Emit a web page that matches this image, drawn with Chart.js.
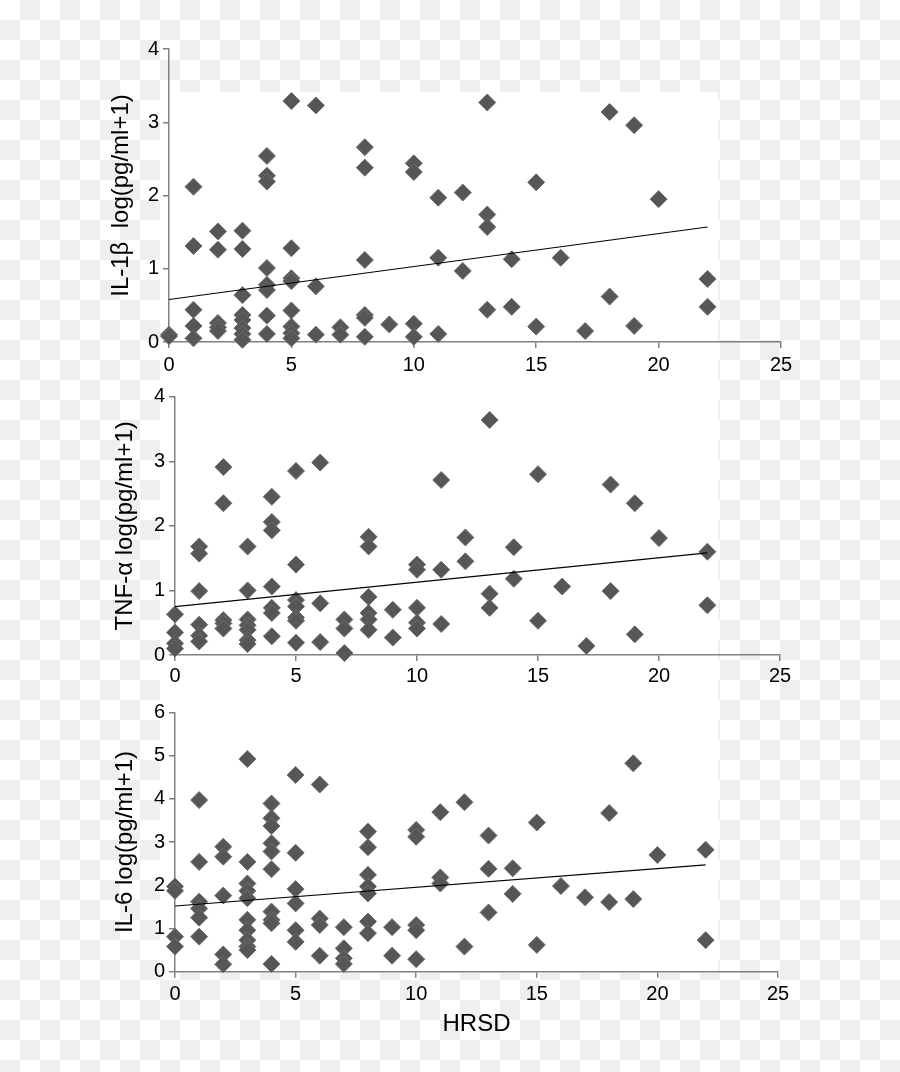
<!DOCTYPE html>
<html><head><meta charset="utf-8">
<script src="https://cdn.jsdelivr.net/npm/chart.js@4"></script>
<style>
html,body{margin:0;padding:0;}
body{width:900px;height:1072px;position:relative;overflow:hidden;
background:repeating-conic-gradient(#efefef 0 25%, #ffffff 0 50%) 0 0/40px 40px;}
#plate{position:absolute;left:160px;top:92px;width:558px;height:881px;background:#fff;}
canvas{position:absolute;left:0;top:0;}
</style></head><body>
<div id="plate"></div>
<canvas id="c1" width="900" height="1072"></canvas>
<canvas id="c2" width="900" height="1072"></canvas>
<canvas id="c3" width="900" height="1072"></canvas>
<script>
// ---------- data ----------
const hrsdTicks = [0, 5, 10, 15, 20, 25];

// IL-1β panel
const il1bX = [0,0, 1,1,1,1,1, 2,2,2,2,2, 3,3,3,3,3,3,3,3, 4,4,4,4,4,4,4,4, 5,5,5,5,5,5,5,5, 6,6,6, 7,7, 8,8,8,8,8,8, 9, 10,10,10,10, 11,11,11, 12,12, 13,13,13,13, 14,14, 15,15, 16, 17, 18,18, 19,19, 20, 22,22];
const il1bY = [0.10,0.08, 2.12,1.31,0.44,0.22,0.05, 1.51,1.26,0.26,0.20,0.15, 1.52,1.27,0.64,0.37,0.30,0.19,0.11,0.03, 2.54,2.27,2.19,1.01,0.78,0.71,0.36,0.11, 3.29,1.28,0.87,0.83,0.43,0.21,0.12,0.05, 3.23,0.76,0.10, 0.20,0.10, 2.66,2.38,1.12,0.37,0.33,0.07, 0.24, 2.44,2.32,0.25,0.07, 1.97,1.15,0.11, 2.04,0.97, 3.27,1.74,1.57,0.44, 1.13,0.48, 2.18,0.21, 1.15, 0.15, 3.14,0.62, 2.96,0.22, 1.95, 0.86,0.48];

// TNF-α panel
const tnfX = [0,0,0,0, 1,1,1,1,1,1, 2,2,2,2,2, 3,3,3,3,3,3,3, 4,4,4,4,4,4,4, 5,5,5,5,5,5,5, 6,6,6, 7,7,7, 8,8,8,8,8,8, 9,9, 10,10,10,10,10, 11,11,11, 12,12, 13,13,13, 14,14, 15,15, 16, 17, 18,18, 19,19, 20, 22,22];
const tnfY = [0.63,0.35,0.18,0.10, 1.68,1.57,0.99,0.47,0.30,0.21, 2.91,2.35,0.54,0.49,0.41, 1.68,1.00,0.55,0.46,0.39,0.23,0.17, 2.45,2.06,1.93,1.06,0.73,0.65,0.29, 2.85,1.40,0.85,0.75,0.58,0.53,0.19, 2.98,0.80,0.20, 0.55,0.41,0.03, 1.83,1.68,0.90,0.65,0.55,0.39, 0.70,0.27, 1.40,1.32,0.73,0.50,0.41, 2.71,1.32,0.48, 1.82,1.45, 3.64,0.95,0.73, 1.67,1.18, 2.80,0.53, 1.06, 0.14, 2.64,0.99, 2.35,0.32, 1.81, 1.60,0.77];

// IL-6 panel
const il6X = [0,0,0,0, 1,1,1,1,1,1, 2,2,2,2,2, 3,3,3,3,3,3,3,3,3,3, 4,4,4,4,4,4,4,4,4,4, 5,5,5,5,5,5, 6,6,6,6, 7,7,7,7, 8,8,8,8,8,8,8, 9,9, 10,10,10,10,10, 11,11,11, 12,12, 13,13,13, 14,14, 15,15, 16, 17, 18,18, 19,19, 20, 22,22];
const il6Y = [1.97,1.87,0.81,0.58, 3.97,2.54,1.62,1.46,1.25,0.81, 2.89,2.66,1.76,0.40,0.17, 4.92,2.54,2.04,1.87,1.70,1.20,0.96,0.73,0.58,0.50, 3.89,3.55,3.37,2.97,2.78,2.37,1.39,1.20,1.12,0.18, 4.55,2.75,1.91,1.58,0.96,0.69, 4.33,1.23,1.08,0.37, 1.03,0.54,0.31,0.18, 3.24,2.88,2.24,1.97,1.81,1.16,0.89, 1.03,0.37, 3.28,3.12,1.08,0.96,0.29, 3.69,2.18,2.04, 3.92,0.58, 3.15,2.38,1.37, 2.39,1.80, 3.45,0.62, 1.98, 1.72, 3.67,1.61, 4.82,1.68, 2.70, 2.82,0.73];

// fitted regression lines (end points at HRSD 0 and 22)
const fitX = [0, 22];
const il1bFit = [0.58, 1.57];
const tnfFit = [0.75, 1.58];
const il6Fit = [1.52, 2.47];

// ---------- drawing ----------
const FONT = "'Liberation Sans', Arial, Helvetica, sans-serif";
const AXIS_GREY = '#808080';

function pts(xs, ys) { return xs.map((x, i) => ({x: x, y: ys[i]})); }

function makePanel(id, xs, ys, fit, yMax, yTitle, area, xTitle) {
  const W = 900, H = 1072;
  new Chart(document.getElementById(id), {
    type: 'scatter',
    data: {
      datasets: [
        {
          type: 'line',
          data: pts(fitX, fit),
          borderColor: '#000000',
          borderWidth: 1.2,
          pointRadius: 0,
          fill: false,
          order: 0
        },
        {
          data: pts(xs, ys),
          pointStyle: 'rectRot',
          pointRadius: 8.5,
          pointHoverRadius: 8.5,
          backgroundColor: '#565656',
          borderColor: '#6e6e6e',
          borderWidth: 1,
          clip: false,
          order: 1
        }
      ]
    },
    options: {
      responsive: false,
      animation: false,
      devicePixelRatio: 1,
      events: [],
      layout: {
        padding: {
          left: area.titleLeft,
          right: W - area.right,
          top: area.top,
          bottom: H - area.bottom - area.xAxisH
        }
      },
      plugins: { legend: { display: false }, tooltip: { enabled: false } },
      scales: {
        x: {
          type: 'linear',
          min: hrsdTicks[0],
          max: hrsdTicks[hrsdTicks.length - 1],
          afterBuildTicks: (s) => { s.ticks = hrsdTicks.map(v => ({value: v})); },
          afterFit: (s) => { s.height = area.xAxisH; },
          grid: { display: true, drawOnChartArea: false, drawTicks: true, tickLength: 6, color: AXIS_GREY, lineWidth: 1.5 },
          border: { display: true, color: AXIS_GREY, width: 1.5 },
          ticks: { color: '#000', font: { family: FONT, size: 20 }, padding: area.xPad, maxRotation: 0 },
          title: xTitle ? { display: true, text: xTitle, color: '#000', font: { family: FONT, size: 24 }, padding: 0 } : { display: false }
        },
        y: {
          type: 'linear',
          min: 0,
          max: yMax,
          afterFit: (s) => { s.width = area.left - area.titleLeft; },
          grid: { display: true, drawOnChartArea: false, drawTicks: true, tickLength: 6, color: AXIS_GREY, lineWidth: 1.5 },
          border: { display: true, color: AXIS_GREY, width: 1.5 },
          ticks: { stepSize: 1, color: '#000', font: { family: FONT, size: 20 }, padding: 4 },
          title: { display: true, text: yTitle, color: '#000', font: { family: FONT, size: 24 }, padding: 0 }
        }
      }
    }
  });
}

makePanel('c1', il1bX, il1bY, il1bFit, 4, 'IL-1\u03b2  log(pg/ml+1)',
  { left: 169, right: 781, top: 49, bottom: 342, titleLeft: 106.5, xAxisH: 40, xPad: 5 }, null);
makePanel('c2', tnfX, tnfY, tnfFit, 4, 'TNF-\u03b1 log(pg/ml+1)',
  { left: 175, right: 780, top: 396.7, bottom: 655, titleLeft: 111, xAxisH: 40, xPad: 3 }, null);
makePanel('c3', il6X, il6Y, il6Fit, 6, 'IL-6 log(pg/ml+1)',
  { left: 175, right: 778, top: 712.3, bottom: 971.7, titleLeft: 111, xAxisH: 67.3, xPad: 5 }, 'HRSD');
</script>
</body></html>
